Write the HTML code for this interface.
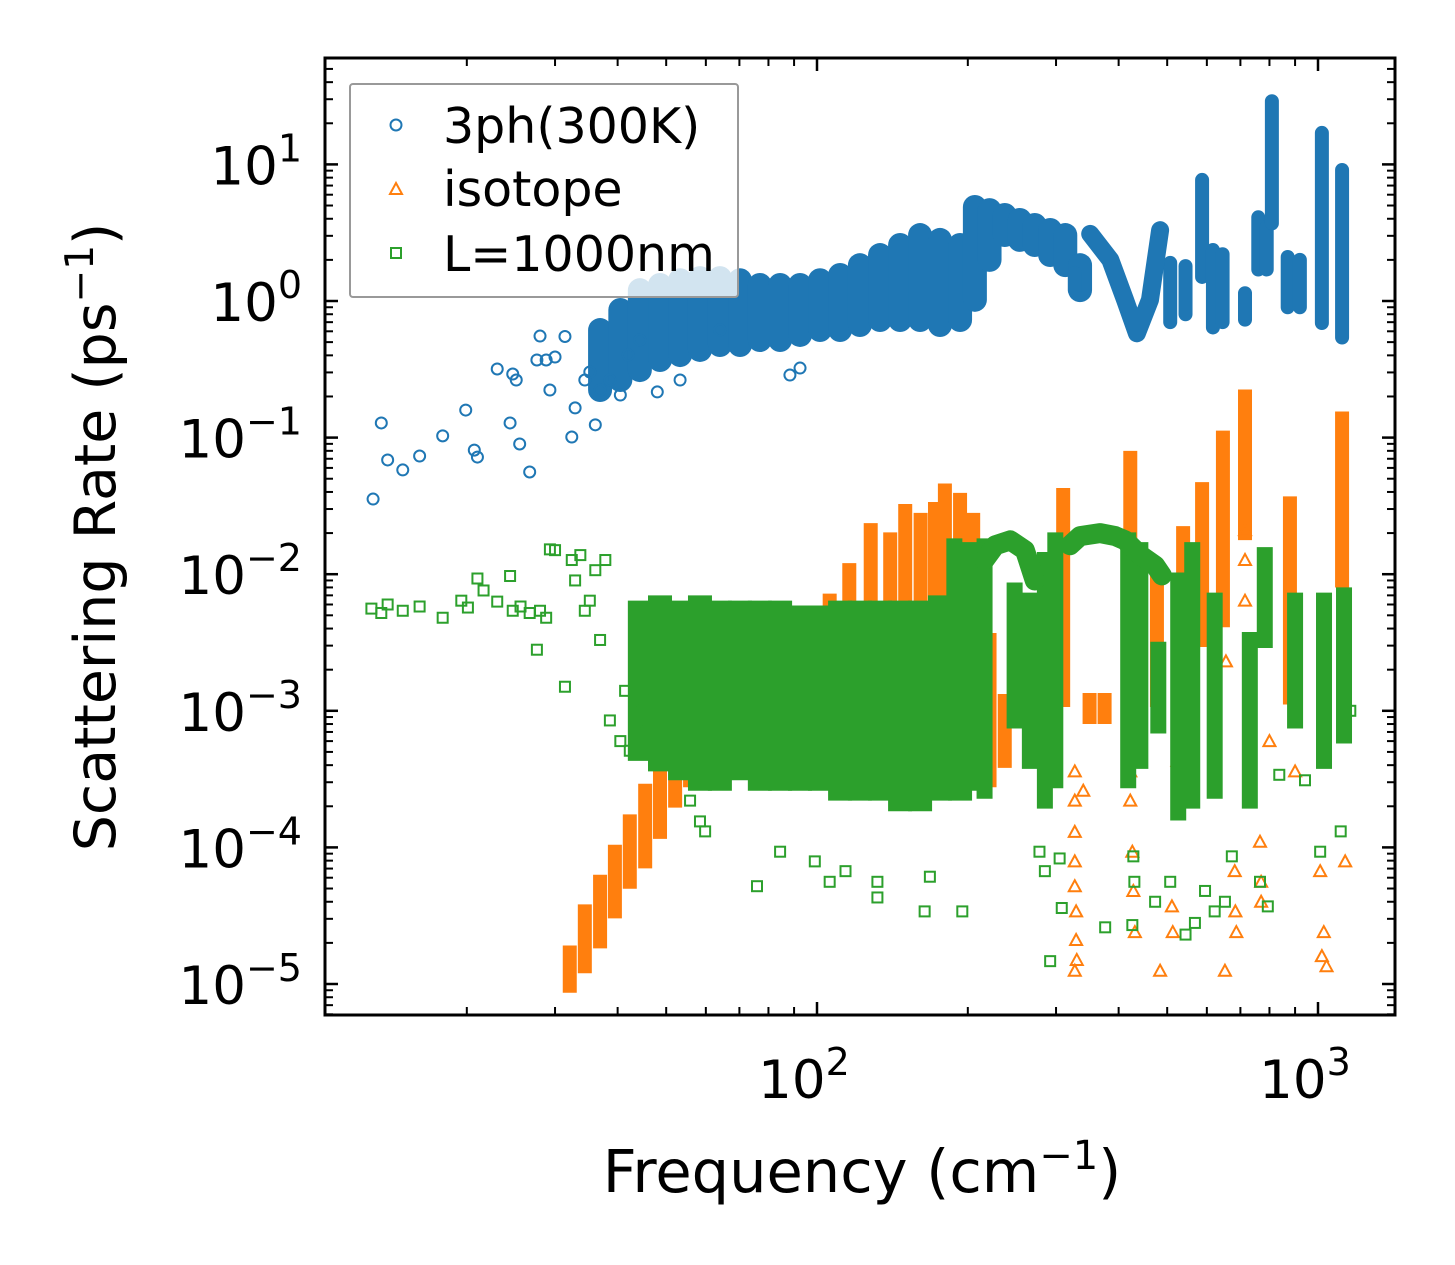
<!DOCTYPE html>
<html><head><meta charset="utf-8"><style>
html,body{margin:0;padding:0;background:#fff;}
svg{display:block;font-family:"DejaVu Sans","Liberation Sans",sans-serif;}
</style></head><body>
<svg id="chart" width="1455" height="1265" viewBox="0 0 1455 1265" xmlns="http://www.w3.org/2000/svg">
<rect width="1455" height="1265" fill="#fff"/>
<g id="marks"></g>
<g id="axes"></g>
<g id="legend">
<rect x="350" y="84" width="388" height="213" rx="3" fill="rgba(255,255,255,0.8)" stroke="#999" stroke-width="2"/>
<circle cx="396" cy="125" r="5.5" fill="none" stroke="#1f77b4" stroke-width="2"/>
<text x="443" y="143" font-size="49">3ph(300K)</text>
<polygon points="396,183 402,194 390,194" fill="none" stroke="#ff7f0e" stroke-width="2"/>
<text x="443" y="206" font-size="49">isotope</text>
<rect x="391" y="248" width="10" height="10" fill="none" stroke="#2ca02c" stroke-width="2"/>
<text x="443" y="271" font-size="49">L=1000nm</text>
</g>
<text x="862" y="1192" font-size="59" text-anchor="middle">Frequency (cm<tspan dy="-23" font-size="40">−1</tspan><tspan dy="23">)</tspan></text>
<text transform="translate(115,537) rotate(-90)" font-size="57" text-anchor="middle">Scattering Rate (ps<tspan dy="-22" font-size="39">−1</tspan><tspan dy="22">)</tspan></text>
</svg>
<script>
// ---- data (frequency cm^-1, rate ps^-1) ----
const phBandF  = [36.9,40.5,44.3,48.6,53.3,58.4,64,70.2,76.9,84.4,92.5,101.4,111.2,121.8,133.6,146.5,160.6,176,193,206.6,221,237,254,272,292,313,335];
const phBandLo = [0.223,0.264,0.312,0.37,0.402,0.438,0.476,0.476,0.518,0.518,0.564,0.613,0.613,0.667,0.726,0.726,0.726,0.667,0.726,1.02,2.0,3.04,2.8,2.57,2.17,1.83,1.2];
const phBandHi = [0.613,0.86,1.2,1.31,1.42,1.47,1.47,1.42,1.31,1.31,1.31,1.42,1.55,1.83,2.17,2.57,3.04,2.8,2.57,4.88,4.63,4.26,3.92,3.6,3.31,3.04,1.83];
const phColF  = [327,507,544,587,617,645,715,760,790,809,870,920,1018,1117];
const phColLo = [1.2,0.7,0.8,1.5,0.64,0.7,0.73,1.7,1.7,3.7,0.9,0.9,0.69,0.54];
const phColHi = [1.6,1.9,1.8,7.7,2.36,2.2,1.14,4.1,3.5,29,2.1,2.0,17,9.1];
const phTraceF = [351,385,412,435,462,484];
const phTraceR = [3.1,2.0,1.02,0.58,1.02,3.3];
const phPtsF = [13.0,13.5,13.9,14.9,16.1,17.9,19.9,20.7,21.0,23.0,24.4,24.7,25.1,25.5,26.7,27.6,28.0,28.8,29.3,30.0,31.4,32.4,32.9,34.4,35.2,36.1,36.9,38.6,40.5,42.0,44.3,48.0,53.3,64.0,88.3,92.5];
const phPtsR = [0.0355,0.128,0.0686,0.058,0.0733,0.103,0.159,0.081,0.072,0.318,0.128,0.292,0.264,0.0898,0.056,0.37,0.554,0.37,0.223,0.389,0.55,0.101,0.165,0.264,0.302,0.124,0.223,0.264,0.205,0.403,0.518,0.216,0.264,0.614,0.287,0.323];

const isoColF  = [32.1,34.4,36.9,39.5,42.3,45.4,48.6,52.1,55.8,106,116,128,140,150,161,172,180,193,205,221,237,310,350,375,422,477,538,587,646,715,879,1117];
const isoColLo = [9.7e-6,1.35e-5,2.05e-5,3.4e-5,5.6e-5,7.9e-5,1.3e-4,2.2e-4,3.1e-4,1.2e-3,1.2e-3,1.2e-3,8.5e-4,8.5e-4,8.5e-4,6e-4,4.3e-4,3.6e-4,3.1e-4,3.1e-4,4.3e-4,1.2e-3,9e-4,9e-4,3.3e-3,1.2e-3,1.2e-3,3.3e-3,4.6e-3,0.02,1.25e-3,9e-3];
const isoColHi = [1.7e-5,3.4e-5,5.6e-5,9.3e-5,1.55e-4,2.6e-4,3.6e-4,5.1e-4,7.1e-4,6.4e-3,1.07e-2,2.1e-2,1.8e-2,2.9e-2,2.5e-2,3.0e-2,4.1e-2,3.5e-2,2.5e-2,3.3e-3,1.18e-3,3.8e-2,1.2e-3,1.2e-3,7.1e-2,1.1e-2,2.0e-2,4.2e-2,0.1,0.2,3.3e-2,0.138];
const isoPtsF = [327,327,327,327,327,329,329,330,327,340,422,426,428,431,484,511,513,652,682,684,687,766,770,770,1010,1027,1018,1040,1133,715,715,715,655,422,524,800,900];
const isoPtsR = [3.6e-4,2.2e-4,1.3e-4,7.9e-5,5.2e-5,3.4e-5,2.1e-5,1.5e-5,1.25e-5,2.6e-4,2.2e-4,9.3e-5,4.8e-5,2.4e-5,1.25e-5,3.7e-5,2.4e-5,1.25e-5,6.7e-5,3.4e-5,2.4e-5,1.1e-4,5.6e-5,4e-5,6.7e-5,2.4e-5,1.6e-5,1.35e-5,7.9e-5,2.1e-2,1.27e-2,6.4e-3,2.3e-3,3.6e-4,4.3e-4,6e-4,3.6e-4];

const bdBandF  = [44.3,48.6,53.3,58.4,64,70.2,76.9,84.4,92.5,101.4,111.2,121.8,133.6,146.5,160.6,176,193,212];
const bdBandLo = [4.3e-4,3.6e-4,3.1e-4,2.6e-4,2.6e-4,3.1e-4,2.6e-4,2.6e-4,2.6e-4,2.6e-4,2.2e-4,2.2e-4,2.2e-4,1.84e-4,1.84e-4,2.2e-4,2.2e-4,2.6e-4];
const bdBandHi = [6.4e-3,7e-3,6.4e-3,7e-3,6.4e-3,6.4e-3,6.4e-3,6.4e-3,5.9e-3,5.9e-3,6.4e-3,6.4e-3,6.4e-3,6.4e-3,6.4e-3,7e-3,7.6e-3,9e-3];
const bdColF  = [188,202,216,248,266,285,299,418,442,480,526,561,622,731,783,900,1028,1127];
const bdColLo = [6e-4,4.3e-4,2.6e-4,8.5e-4,4.3e-4,2.2e-4,3.1e-4,3.1e-4,4.3e-4,7.8e-4,1.8e-4,2.2e-4,2.6e-4,2.2e-4,3.3e-3,8.5e-4,4.3e-4,6.6e-4];
const bdColHi = [1.6e-2,1.5e-2,1.6e-2,7.6e-3,6.4e-3,1.27e-2,1.77e-2,1.77e-2,1.5e-2,2.8e-3,9e-3,1.5e-2,6.4e-3,3.3e-3,1.38e-2,6.4e-3,6.4e-3,7e-3];
const bdArch1F = [216,227,243,260,272];
const bdArch1R = [1.27e-2,1.63e-2,1.77e-2,1.5e-2,9e-3];
const bdArch2F = [320,335,367,394,412,442,473,488];
const bdArch2R = [1.63e-2,1.9e-2,2e-2,1.9e-2,1.77e-2,1.38e-2,1.16e-2,9.8e-3];
const bdPtsF = [12.9,13.5,13.9,14.9,16.1,17.9,19.5,20.1,21.0,21.6,23.0,24.4,24.7,25.6,26.7,27.6,28.0,28.8,31.4,29.3,30.0,32.4,32.9,33.7,34.4,35.2,36.1,36.9,37.8,38.6,40.5,41.4,42.3,43.7,44.8,55.8,58.4,59.8,75.9,84.4,99,106,114,132,132,168,195,164,292,308,305,376,426,430,428,473,507,544,568,595,622,652,673,766,794,837,942,1010,1110,1160,1135,278,285];
const bdPtsR = [5.6e-3,5.2e-3,6.0e-3,5.4e-3,5.8e-3,4.8e-3,6.4e-3,5.7e-3,9.3e-3,7.6e-3,6.3e-3,9.7e-3,5.4e-3,5.8e-3,5.2e-3,2.8e-3,5.4e-3,4.8e-3,1.5e-3,1.52e-2,1.5e-2,1.27e-2,9e-3,1.38e-2,5.4e-3,6.4e-3,1.07e-2,3.3e-3,1.27e-2,8.5e-4,6e-4,1.4e-3,5.1e-4,7.1e-4,1.18e-3,2.2e-4,1.55e-4,1.31e-4,5.2e-5,9.3e-5,7.9e-5,5.6e-5,6.7e-5,4.3e-5,5.6e-5,6.1e-5,3.4e-5,3.4e-5,1.47e-5,3.6e-5,8.3e-5,2.6e-5,2.7e-5,5.6e-5,8.6e-5,4e-5,5.6e-5,2.3e-5,2.8e-5,4.8e-5,3.4e-5,4e-5,8.6e-5,5.6e-5,3.7e-5,3.4e-4,3.1e-4,9.3e-5,1.31e-4,1e-3,2.8e-3,9.3e-5,6.7e-5];

const xMajor = [100,1000];
const xMajorLabels = ["2","3"];
const yMajor = [1e-5,1e-4,1e-3,1e-2,1e-1,1,10];
const yMajorLabels = ["−5","−4","−3","−2","−1","0","1"];

const L=325,R=1395,T=58,B=1015;
function X(f){return 817+501*Math.log10(f/100);}
function Y(r){return 301-136.6*Math.log10(r);}
const NS="http://www.w3.org/2000/svg";
const marks=document.getElementById('marks');
const axes=document.getElementById('axes');
function mk(tag,attrs,parent){const e=document.createElementNS(NS,tag);for(const k in attrs)e.setAttribute(k,attrs[k]);parent.appendChild(e);return e;}

const C1="#1f77b4",C2="#ff7f0e",C3="#2ca02c";
function groupFor(name){const g=document.createElementNS(NS,'g');


marks.appendChild(g);return g;}
function columns(g,F,Lo,Hi,color,w,cap,name){
 for(let i=0;i<F.length;i++){
  const e=mk('line',{x1:X(F[i]),x2:X(F[i]),y1:Y(Lo[i]),y2:Y(Hi[i]),stroke:color,'stroke-width':w,'stroke-linecap':cap},g);
  
  
 }
}
function trace(g,F,Rr,color,w,name){
 const pts=F.map((f,i)=>X(f)+','+Y(Rr[i])).join(' ');
 const e=mk('polyline',{points:pts,fill:'none',stroke:color,'stroke-width':w,'stroke-linecap':'round','stroke-linejoin':'round'},g);
 
 
}

const gB=groupFor('series-3ph');
columns(gB,phBandF,phBandLo,phBandHi,C1,24,'round','3ph-band-column');
columns(gB,phColF,phColLo,phColHi,C1,14,'round','3ph-cluster');
trace(gB,phTraceF,phTraceR,C1,18,'3ph-trace');
for(let i=0;i<phPtsF.length;i++){
 const e=mk('circle',{cx:X(phPtsF[i]),cy:Y(phPtsR[i]),r:5.5,fill:'none',stroke:C1,'stroke-width':2},gB);
 
 
}
const gO=groupFor('series-isotope');
columns(gO,isoColF,isoColLo,isoColHi,C2,14,'square','isotope-cluster');
for(let i=0;i<isoPtsF.length;i++){
 const x=X(isoPtsF[i]),y=Y(isoPtsR[i]);
 const e=mk('polygon',{points:`${x},${y-6} ${x+6},${y+5} ${x-6},${y+5}`,fill:'none',stroke:C2,'stroke-width':2},gO);
 
 
}
const gG=groupFor('series-boundary');
columns(gG,bdBandF,bdBandLo,bdBandHi,C3,24,'butt','boundary-band-column');
columns(gG,bdColF,bdColLo,bdColHi,C3,16,'square','boundary-cluster');
trace(gG,bdArch1F,bdArch1R,C3,20,'boundary-arch');
trace(gG,bdArch2F,bdArch2R,C3,20,'boundary-arch');
for(let i=0;i<bdPtsF.length;i++){
 const e=mk('rect',{x:X(bdPtsF[i])-5,y:Y(bdPtsR[i])-5,width:10,height:10,fill:'none',stroke:C3,'stroke-width':2},gG);
 
 
}

const frame=mk('rect',{x:L,y:T,width:R-L,height:B-T,fill:'none',stroke:'#000','stroke-width':3},axes);


function tick(x1,y1,x2,y2,w,name){const e=mk('line',{x1,y1,x2,y2,stroke:'#000','stroke-width':w},axes);
 
 }
for(let d=10;d<=1000;d*=10){for(let m=1;m<=9;m++){const f=d*m;const x=X(f);if(x<L||x>R)continue;
 const maj=(m===1);const len=maj?13:8;
 tick(x,B,x,B-len,maj?2.5:2,maj?'x-major-tick':'x-minor-tick');
 tick(x,T,x,T+len,maj?2.5:2,maj?'x-major-tick':'x-minor-tick');}}
xMajor.forEach((f,i)=>{const t=mk('text',{x:X(f)-13,y:1098,'font-size':53,'text-anchor':'middle'},axes);
 
 
 t.textContent='10';const s=mk('tspan',{dy:-23,'font-size':38},t);s.textContent=xMajorLabels[i];});
for(let e=-6;e<=1;e++){for(let m=1;m<=9;m++){const r=m*Math.pow(10,e);const y=Y(r);if(y<T||y>B)continue;
 const maj=(m===1);const len=maj?13:8;
 tick(L,y,L+len,y,maj?2.5:2,maj?'y-major-tick':'y-minor-tick');
 tick(R,y,R-len,y,maj?2.5:2,maj?'y-major-tick':'y-minor-tick');}}
yMajor.forEach((r,i)=>{const y=Y(r);const t=mk('text',{x:302,y:y+20,'font-size':53,'text-anchor':'end'},axes);
 
 
 const b=mk('tspan',{},t);b.textContent='10';const s=mk('tspan',{dy:-23,'font-size':38},t);s.textContent=yMajorLabels[i];});
document.getElementById('chart').appendChild(document.getElementById('legend'));
</script>
</body></html>
